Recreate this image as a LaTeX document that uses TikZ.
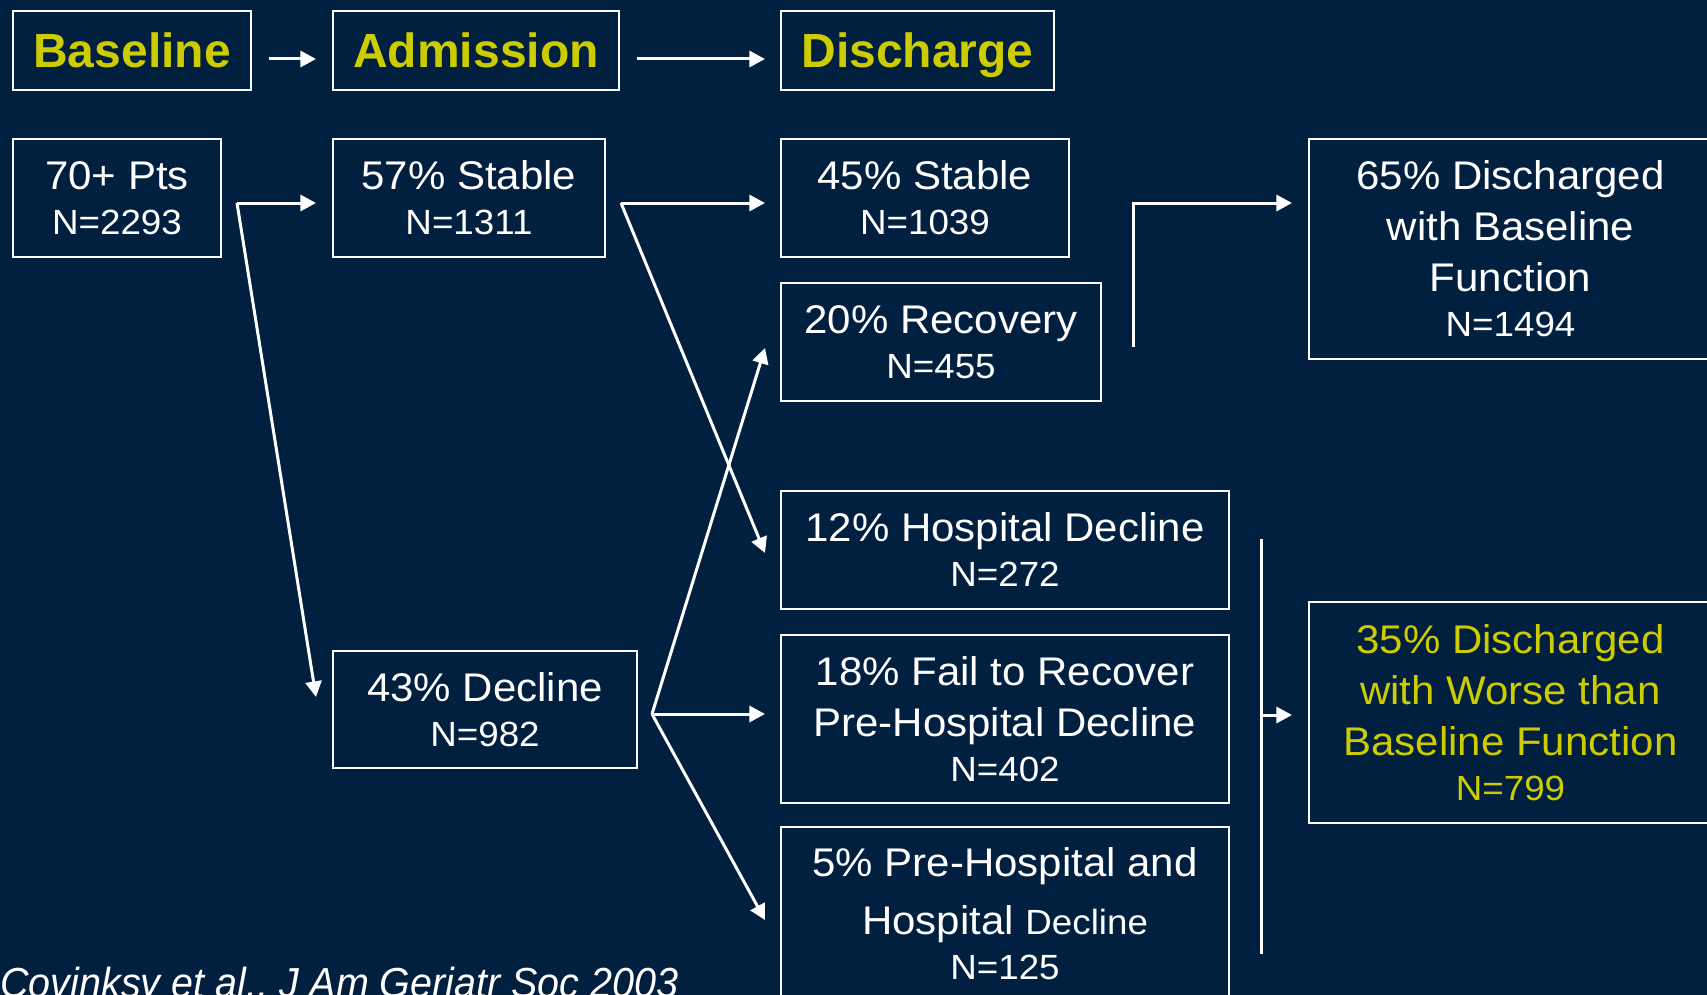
\documentclass[tikz,border=0pt]{standalone}
\usepackage{fontspec}
\setmainfont{Liberation Sans}
\newfontfamily\boxfont[FakeStretch=1.05]{Liberation Sans}
\newfontfamily\citefont[FakeStretch=0.94]{Liberation Sans}
\usetikzlibrary{arrows.meta}
\definecolor{navy}{RGB}{1,31,63}
\definecolor{gold}{RGB}{204,204,0}
\newcommand{\smallN}{\fontsize{17.5}{22.5}\selectfont}

\begin{document}
\begin{tikzpicture}[x=0.5pt,y=-0.5pt,
		box/.style={draw=white,line width=1pt,inner sep=0pt,outer sep=0pt,text=white,align=center,
			font=\boxfont\fontsize{20}{25.5}\selectfont},
		head/.style={box,text=gold,font=\fontsize{24}{29}\selectfont\bfseries,
			text height=17.5pt,text depth=0pt,minimum height=39.5pt},
		arr/.style={draw=white,line width=1.5pt,-{Triangle[length=7.8pt,width=8pt]}},
		wire/.style={draw=white,line width=1.5pt}]
							% 背景
							\fill[navy] (0,0) rectangle (1707,995);
							\useasboundingbox (0,0) rectangle (1707,995);
							% 标题
							\node[head,minimum width=119pt] (base) at (132,50.5) {Baseline};
							\node[head,minimum width=143pt] (adm) at (476,50.5) {Admission};
							\node[head,minimum width=136.5pt] (dis) at (917.5,50.5) {Discharge};
							\draw[arr] ([shift={(18,8.5)}]base.east) -- ([shift={(-17,8.5)}]adm.west);
							\draw[arr] ([shift={(18,8.5)}]adm.east) -- ([shift={(-16,8.5)}]dis.west);
							% 入院前与入院时
							\node[box,minimum width=104pt,minimum height=59pt] (pts) at (117,198) {70+ Pts\\[-3pt]\smallN N=2293};
							\node[box,minimum width=136pt,minimum height=59pt] (stab1) at (469,198) {57\% Stable\\[-3pt]\smallN N=1311};
							\node[box,minimum width=152pt,minimum height=58.5pt] (decl) at (485,709.5) {43\% Decline\\[-3pt]\smallN N=982};
							% 出院时
							\node[box,minimum width=144pt,minimum height=59pt] (stab2) at (925,198) {45\% Stable\\[-3pt]\smallN N=1039};
							\node[box,minimum width=160pt,minimum height=59pt] (recov) at (941,342) {20\% Recovery\\[-3pt]\smallN N=455};
							\node[box,minimum width=224pt,minimum height=59pt] (hosp) at (1005,550) {12\% Hospital Decline\\[-3pt]\smallN N=272};
							\node[box,minimum width=224pt,minimum height=84pt] (fail) at (1005,719) {18\% Fail to Recover\\Pre-Hospital Decline\\[-3pt]\smallN N=402};
							\node[box,minimum width=224pt,minimum height=86.5pt] (both) at (1005,913.5) {5\% Pre-Hospital and\\[3.5pt]Hospital {\smallN Decline}\\[-3pt]\smallN N=125};
							% 结果
							\node[box,minimum width=201.5pt,minimum height=110pt] (good) at (1510.5,249) {65\% Discharged\\with Baseline\\Function\\[-3pt]\smallN N=1494};
							\node[box,text=gold,minimum width=201.5pt,minimum height=110.5pt] (worse) at (1510.5,712.5) {35\% Discharged\\with Worse than\\Baseline Function\\[-3pt]\smallN N=799};
							% 连线
							\coordinate (j1) at ([shift={(16,5)}]pts.east);
							\draw[arr,shorten >=8.5pt] (j1) -- (j1 -| stab1.west);
							\draw[arr] (j1) -- ([shift={(-17,-12.5)}]decl.west);
							\coordinate (j2) at ([shift={(16,5)}]stab1.east);
							\draw[arr] (j2) -- ([shift={(-16,5)}]stab2.west);
							\draw[arr] (j2) -- ([shift={(-16,3)}]hosp.west);
							\coordinate (j3) at ([shift={(15,4.5)}]decl.east);
							\draw[arr] (j3) -- ([shift={(-16,6)}]recov.west);
							\draw[arr] (j3) -- ([shift={(-16,-5)}]fail.west);
							\draw[arr] (j3) -- ([shift={(-16,6.5)}]both.west);
							% 汇总
							\coordinate (t1) at (1133,347);
							\coordinate (t2) at (1133,203);
							\draw[arr,shorten >=8.5pt] (t1) -- (t2) -- (t2 -| good.west);
							\coordinate (b1) at (1261,539);
							\coordinate (b2) at (1261,954);
							\coordinate (b3) at (1261,715);
							\draw[wire] (b1) -- (b2);
							\draw[arr,shorten >=8.5pt] (b3) -- (b3 -| worse.west);
							% 文献
							\node[anchor=base west,inner sep=0pt,text=white,font=\citefont\itshape\fontsize{21}{25}\selectfont] (cite) at (0,997) {Covinksy et al., J Am Geriatr Soc 2003};
						\end{tikzpicture}
\end{document}
